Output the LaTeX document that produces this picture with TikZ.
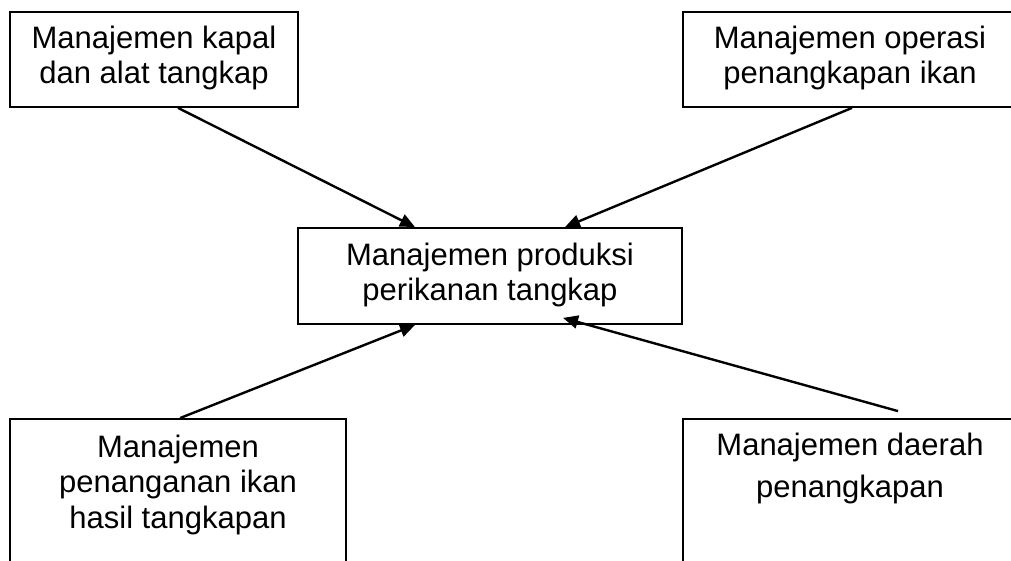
\documentclass[tikz,border=0pt]{standalone}
\usepackage{fontspec}
\setmainfont{Liberation Sans}
\usetikzlibrary{arrows.meta,calc}
\begin{document}
\begin{tikzpicture}[x=1pt,y=-1pt,
  box/.style={draw=black,line width=1.8pt,rectangle,inner sep=0pt},
  lbl/.style={align=center,font=\fontsize{31}{35}\selectfont,inner sep=0pt},
  conn/.style={line width=2.4pt,-{Triangle[length=15pt,width=13pt]}}]
\useasboundingbox (0,0) rectangle (1011,561);
\begin{scope}
\clip (0,0) rectangle (1011,561);
\node[box,minimum width=288pt,minimum height=95pt] (tl) at (154,59.5) {};
\node[box,minimum width=334pt,minimum height=95pt] (tr) at (850,59.5) {};
\node[box,minimum width=384pt,minimum height=96pt] (c) at (490,276) {};
\node[box,minimum width=336pt,minimum height=181pt] (bl) at (178,509.5) {};
\node[box,minimum width=334pt,minimum height=181pt] (br) at (850,509.5) {};
\end{scope}
\node[lbl] (tlt) at (154,58) {Manajemen kapal\\dan alat tangkap};
\node[lbl] (trt) at (850,58) {Manajemen operasi\\penangkapan ikan};
\node[lbl] (ct) at (490,274.5) {Manajemen produksi\\perikanan tangkap};
\node[lbl,font=\fontsize{31}{35.5}\selectfont] (blt) at (178,484.7) {Manajemen\\penanganan ikan\\hasil tangkapan};
\node[lbl,font=\fontsize{31}{42}\selectfont] (brt) at (850,468) {Manajemen daerah\\penangkapan};
\draw[conn] ([xshift=24pt]tl.south) -- ([xshift=-75pt]c.north);
\draw[conn] ([xshift=2pt]tr.south) -- ([xshift=75pt]c.north);
\draw[conn] ([xshift=2pt]bl.north) -- ([xshift=-75pt]c.south);
\draw[conn] ([xshift=48pt,yshift=7pt]br.north) -- ([xshift=73pt,yshift=7pt]c.south);
\end{tikzpicture}
\end{document}
